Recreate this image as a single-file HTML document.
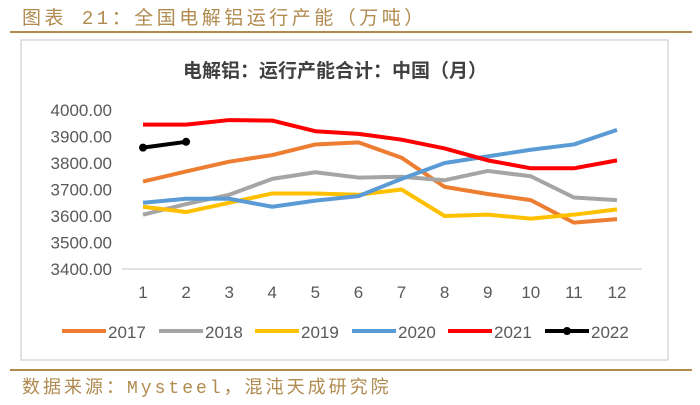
<!DOCTYPE html>
<html><head><meta charset="utf-8"><style>
body{margin:0;width:700px;height:405px;background:#fff;overflow:hidden;font-family:"Liberation Sans","Noto Sans CJK SC",sans-serif}
.hdr{position:absolute;left:22px;top:3px;font-size:19px;color:#b08a4e;font-family:"Liberation Mono","Noto Sans CJK SC",monospace;letter-spacing:3.5px}
.line{position:absolute;left:10px;width:682px;height:2px;background:#b08a4e}
.ftr{position:absolute;left:22px;top:373px;font-size:18px;color:#b08a4e;font-family:"Liberation Mono","Noto Sans CJK SC",monospace;letter-spacing:3px}
</style></head><body>
<div class="hdr">图表 21：全国电解铝运行产能（万吨）</div>
<div class="line" style="top:31px"></div>
<div class="line" style="top:369px"></div>
<div class="ftr">数据来源：Mysteel，混沌天成研究院</div>
<svg id="c" width="700" height="405" style="position:absolute;left:0;top:0">
<rect x="21" y="40" width="647" height="320" fill="none" stroke="#d9d9d9" stroke-width="1.5"/>
<text x="335" y="77" text-anchor="middle" font-size="19" font-weight="bold" fill="#404040">电解铝：运行产能合计：中国（月）</text>
</svg>
<script>
const months=["1","2","3","4","5","6","7","8","9","10","11","12"];
const yTicks=[3400,3500,3600,3700,3800,3900,4000];
const years=["2017","2018","2019","2020","2021","2022"];
const s2017=[3730,3768,3805,3830,3870,3878,3820,3710,3683,3660,3575,3588];
const s2018=[3605,3645,3680,3740,3765,3745,3748,3735,3770,3750,3670,3660];
const s2019=[3635,3615,3650,3685,3685,3680,3700,3600,3605,3590,3605,3625];
const s2020=[3650,3665,3665,3635,3658,3675,3740,3800,3825,3850,3870,3925];
const s2021=[3945,3945,3962,3960,3920,3910,3888,3855,3810,3780,3780,3810];
const s2022=[3858,3880];
const colors=["#ed7d31","#a5a5a5","#ffc000","#5b9bd5","#ff0000","#000000"];
const series=[s2017,s2018,s2019,s2020,s2021,s2022];
const svg=document.getElementById('c');const NS="http://www.w3.org/2000/svg";
const x=i=>143+i*(617-143)/11;
const y=v=>269-(v-3400)*(269-110)/600;
function mk(t,a){const e=document.createElementNS(NS,t);for(const k in a)e.setAttribute(k,a[k]);svg.appendChild(e);return e;}
const ax=mk('line',{x1:122,x2:642,y1:y(3400),y2:y(3400),stroke:'#d9d9d9','stroke-width':1.5});


yTicks.forEach(v=>{const t=mk('text',{x:112,y:y(v)+6,'text-anchor':'end','font-size':17,fill:'#595959'});t.textContent=v.toFixed(2);

});
months.forEach((m,i)=>{const t=mk('text',{x:x(i),y:298,'text-anchor':'middle','font-size':17,fill:'#595959'});t.textContent=m;

});
series.forEach((s,k)=>{const p=mk('polyline',{points:s.map((v,i)=>x(i)+','+y(v)).join(' '),fill:'none',stroke:colors[k],'stroke-width':4,'stroke-linejoin':'round'});


if(k===5)s.forEach((v,i)=>{const c=mk('circle',{cx:x(i),cy:y(v),r:4,fill:'#000'});

});});
const lx=[62,159,255,352,448,545];
years.forEach((yr,k)=>{const l=mk('line',{x1:lx[k],x2:lx[k]+44,y1:331,y2:331,stroke:colors[k],'stroke-width':4});


if(k===5){const c=mk('circle',{cx:lx[k]+22,cy:331,r:4,fill:'#000'});
}
const t=mk('text',{x:lx[k]+46,y:338,'font-size':17,fill:'#595959'});t.textContent=yr;

});
</script>
</body></html>
